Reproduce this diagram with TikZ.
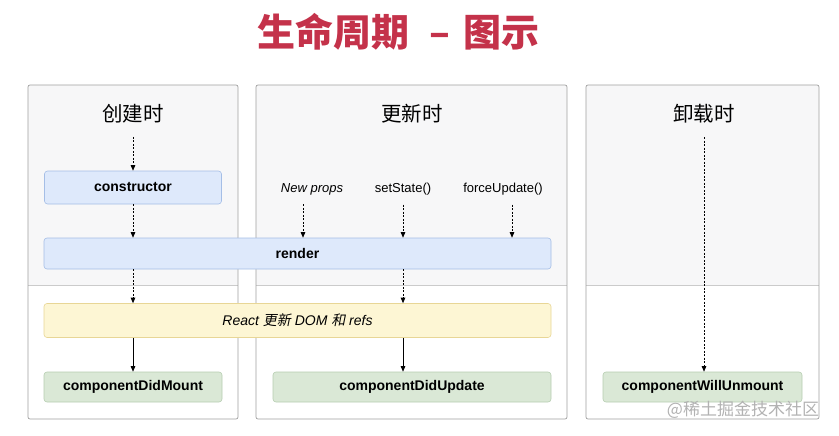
\documentclass[tikz,border=0pt]{standalone}
\usepackage{fontspec}
\setmainfont{Liberation Sans}
\newfontfamily\cjk{Noto Sans CJK SC}
\newfontfamily\cjkit[FakeSlant=0.2]{Noto Sans CJK SC}
\usetikzlibrary{arrows.meta}
\definecolor{titlered}{RGB}{196,50,74}
\definecolor{framegray}{RGB}{160,160,160}
\definecolor{phasefill}{RGB}{247,247,248}
\definecolor{bluefill}{RGB}{222,233,251}
\definecolor{blueline}{RGB}{165,190,230}
\definecolor{yellowfill}{RGB}{253,246,212}
\definecolor{yellowline}{RGB}{232,214,150}
\definecolor{greenfill}{RGB}{218,232,214}
\definecolor{greenline}{RGB}{182,205,176}
\tikzset{
  dasharrow/.style={-{Triangle[length=5.5pt,width=4.5pt]}, line width=0.7pt, dash pattern=on 2pt off 1.5pt},
  flowarrow/.style={-{Triangle[length=5.5pt,width=4.5pt]}, line width=0.7pt},
  lifebox/.style={draw, rounded corners=3pt, line width=0.6pt, minimum height=31pt, inner sep=0pt, font=\bfseries\fontsize{14}{16}\selectfont},
  bluebox/.style={lifebox, fill=bluefill, draw=blueline},
  yellowbox/.style={lifebox, fill=yellowfill, draw=yellowline, font=\itshape\fontsize{14}{16}\selectfont},
  greenbox/.style={lifebox, fill=greenfill, draw=greenline},
  phasehead/.style={font=\cjk\fontsize{20.5}{24}\selectfont},
  trigger/.style={font=\fontsize{13}{15}\selectfont}
}
\begin{document}
\begin{tikzpicture}[x=1pt, y=-1pt]
  \useasboundingbox (0,0) rectangle (839,436);
  % title
  \node[font=\cjk\bfseries\fontsize{38}{40}\selectfont, text=titlered] (title) at (398.5,31.5) {生命周期\hspace{20pt}–\hspace{14pt}图示};
  % phase columns
  \foreach \xa/\xb in {28/238, 256/567, 586/819} {
    \begin{scope}
      \clip[rounded corners=2pt] (\xa,85) rectangle (\xb,419);
      \fill[phasefill] (\xa,85) rectangle (\xb,285);
    \end{scope}
    \draw[framegray!55, line width=0.6pt] (\xa,285) -- (\xb,285);
    \draw[framegray, line width=0.7pt, rounded corners=2pt] (\xa,85) rectangle (\xb,419);
  }
  \node[phasehead] (mounthead) at (133,114) {创建时};
  \node[phasehead] (updatehead) at (412,114) {更新时};
  \node[phasehead] (unmounthead) at (704,114) {卸载时};
  \node[trigger, font=\itshape\fontsize{13}{15}\selectfont] (newprops) at (312,189) {New props};
  \node[trigger] (setstate) at (403,189) {setState()};
  \node[trigger] (forceupdate) at (503,189) {forceUpdate()};
  \node[bluebox, minimum width=177pt, minimum height=33pt] (ctor) at (133,187.5) {constructor};
  \node[bluebox, minimum width=507pt] (render) at (297.5,253.5) {render};
  \node[yellowbox, minimum width=507pt, minimum height=34pt] (react) at (297.5,320.5) {React {\cjkit 更新} DOM {\cjkit 和} refs};
  \node[greenbox, minimum width=178pt, minimum height=30pt] (didmount) at (133,387) {componentDidMount};
  \node[greenbox, minimum width=278pt, minimum height=30pt] (didupdate) at (412,387) {componentDidUpdate};
  \node[greenbox, minimum width=199pt, minimum height=30pt] (willunmount) at (702.5,387) {componentWillUnmount};
  % watermark
  \node[font=\cjk\fontsize{17}{20}\selectfont, text=black!30] (mark) at (743,410) {@稀土掘金技术社区};
  % connectors
  \draw[dasharrow, shorten <=10pt] (mounthead) -- (ctor);
  \draw[dasharrow] (ctor) -- (render.north -| ctor);
  \draw[dasharrow] (render.south -| ctor) -- (react.north -| ctor);
  \draw[flowarrow] (react.south -| ctor) -- (didmount);
  \draw[dasharrow, shorten <=6pt] ([xshift=-9pt]newprops.south) -- ([xshift=-9pt]newprops.south |- render.north);
  \draw[dasharrow, shorten <=6pt] (setstate) -- (render.north -| setstate);
  \draw[dasharrow, shorten <=6pt] ([xshift=9pt]forceupdate.south) -- ([xshift=9pt]forceupdate.south |- render.north);
  \draw[dasharrow] (render.south -| setstate) -- (react.north -| setstate);
  \draw[flowarrow] (react.south -| setstate) -- (didupdate.north -| setstate);
  \draw[dasharrow, shorten <=10pt] (unmounthead) -- (willunmount.north -| unmounthead);
\end{tikzpicture}
\end{document}
